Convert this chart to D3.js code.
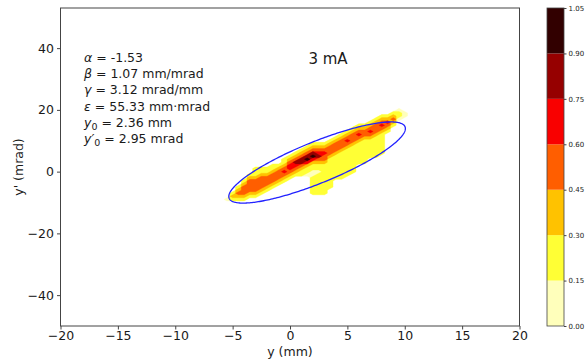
<!DOCTYPE html>
<html>
<head>
<meta charset="utf-8">
<script src="https://cdn.jsdelivr.net/npm/d3@7"></script>
<style>
  body { margin: 0; background: #fff; }
  text { font-family: "DejaVu Sans", sans-serif; fill: #1a1a1a; }
</style>
</head>
<body>
<svg id="chart" width="588" height="360"></svg>
<script>
// twiss parameters of the fitted ellipse
const twissNames  = ["alpha", "beta", "gamma", "emit", "y0", "yp0"];
const twissValues = [-1.53, 1.07, 3.12, 55.33, 2.36, 2.95];
const beamLabel = "3 mA";

// contour levels (normalised density)
const levels = [0, 0.15, 0.30, 0.45, 0.60, 0.75, 0.90, 1.05];

// density, one column per 0.5 mm,
// starting row (mrad, 1 mrad step) and level index per row going up
const colX     = [-5.5, -5, -4.5, -4, -3.5, -3, -2.5, -2, -1.5, -1, -0.5, 0, 0.5, 1, 1.5, 2,
                  2.5, 3, 3.5, 4, 4.5, 5, 5.5, 6, 6.5, 7, 7.5, 8, 8.5, 9, 9.5, 10];
const colStart = [-9, -9, -9, -9, -8, -8, -7, -6, -5, -4, -3, -2, -1, -1, -1, -7,
                  -7, -7, -5, -2, -2, -1, 0, 3, 3, 5, 5, 6, 13, 15, 17, 18];
const colLevels = [
  "1", "232", "23432", "2344432", "23444432", "2344443222", "234444322", "23444322",
  "23444322", "2344432", "23454322", "23455432", "23456432", "223466432", "1223576432",
  "22222211223576432", "22222221223465432", "22222222223445432", "2222222222344432",
  "22222222344432", "222222222344432", "222222222345432", "222222222344432",
  "2222222345432", "2222222234432", "222222345432", "2222222344432", "2222222345432",
  "234532", "23432", "1221", "11"
];

const xTicks = [-20, -15, -10, -5, 0, 5, 10, 15, 20];
const yTicks = [-40, -20, 0, 20, 40];

// hot_r sampled at the level mid points
const levelColors = ["#ffffbb", "#ffff35", "#ffc200", "#ff5e00", "#f90000", "#960000", "#320000"];

const svg = d3.select("#chart");
const plot = { left: 60.5, right: 519.5, top: 8, bottom: 326 };

const x = d3.scaleLinear().domain([-20, 20]).range([plot.left, plot.right]);
const y = d3.scaleLinear().domain([-50, 53]).range([plot.bottom, plot.top]);

// ---- density grid ----
const gx0 = -5.5, gdx = 0.5, gy0 = -10, gdy = 1;
const nx = colX.length, ny = 31;
const grid = new Array(nx * ny).fill(0);
colX.forEach((cx, i) => {
  const s = colLevels[i];
  for (let k = 0; k < s.length; k++) {
    const j = Math.round((colStart[i] + k - gy0) / gdy);
    if (j >= 0 && j < ny) grid[j * nx + i] = +s[k];
  }
});

const contours = d3.contours()
  .size([nx, ny])
  .smooth(false)
  .thresholds(d3.range(1, levels.length).map(d => d - 0.5))(grid);

const proj = d3.geoTransform({
  point(gx, gy) {
    this.stream.point(x(gx0 + (gx - 0.5) * gdx), y(gy0 + (gy - 0.5) * gdy));
  }
});
const path = d3.geoPath(proj);

svg.append("g")
  .selectAll("path")
  .data(contours)
  .join("path")
  .attr("d", path)
  .attr("fill", (d, i) => levelColors[i])
  .attr("stroke", (d, i) => levelColors[i])
  .attr("stroke-width", 0.3);

// ---- twiss ellipse ----
const [alpha, beta, gamma, emit, y0, yp0] = twissValues;
const ell = d3.range(0, 2 * Math.PI + 0.01, 0.02).map(t => [
  y0 + Math.sqrt(emit * beta) * Math.cos(t),
  yp0 + Math.sqrt(emit / beta) * (-alpha * Math.cos(t) - Math.sin(t))
]);
svg.append("path")
  .datum(ell)
  .attr("d", d3.line().x(d => x(d[0])).y(d => y(d[1])))
  .attr("fill", "none")
  .attr("stroke", "#2222ff")
  .attr("stroke-width", 1.3);

// ---- axes ----
const xAxis = svg.append("g")
  .attr("transform", `translate(0,${plot.bottom})`)
  .call(d3.axisBottom(x).tickValues(xTicks).tickSizeOuter(0).tickSize(3.5).tickPadding(2));
const yAxis = svg.append("g")
  .attr("transform", `translate(${plot.left},0)`)
  .call(d3.axisLeft(y).tickValues(yTicks).tickSizeOuter(0).tickSize(3.5).tickPadding(3));
[xAxis, yAxis].forEach(g => {
  g.select(".domain").remove();
  g.selectAll("line").attr("stroke", "#444");
  g.selectAll("text").style("font-size", "12.5px").attr("fill", "#1a1a1a");
});

svg.append("rect")
  .attr("x", plot.left).attr("y", plot.top)
  .attr("width", plot.right - plot.left).attr("height", plot.bottom - plot.top)
  .attr("fill", "none").attr("stroke", "#444").attr("stroke-width", 1);

svg.append("text")
  .attr("x", (plot.left + plot.right) / 2).attr("y", 356)
  .attr("text-anchor", "middle").style("font-size", "12.5px")
  .text("y (mm)");
svg.append("text")
  .attr("transform", `translate(23,${(plot.top + plot.bottom) / 2}) rotate(-90)`)
  .attr("text-anchor", "middle").style("font-size", "12.5px")
  .text("y' (mrad)");

// ---- annotation ----
const ann = svg.append("g").style("font-size", "12.5px");
const lines = [
  [["α", true, false], [" = " + twissValues[0].toFixed(2), false, false]],
  [["β", true, false], [" = " + twissValues[1].toFixed(2) + " mm/mrad", false, false]],
  [["γ", true, false], [" = " + twissValues[2].toFixed(2) + " mrad/mm", false, false]],
  [["ε", true, false], [" = " + twissValues[3].toFixed(2) + " mm·mrad", false, false]],
  [["y", true, false], ["0", false, true], [" = " + twissValues[4].toFixed(2) + " mm", false, false]],
  [["y′", true, false], ["0", false, true], [" = " + twissValues[5].toFixed(2) + " mrad", false, false]]
];
lines.forEach((parts, i) => {
  const t = ann.append("text").attr("x", 84).attr("y", 62 + i * 16.2);
  parts.forEach(([s, it, sub]) => {
    const ts = t.append("tspan").text(s);
    if (it) ts.style("font-style", "italic");
    if (sub) ts.attr("dy", 3).style("font-size", "9.5px");
    else if (i >= 4 && s.startsWith(" ")) ts.attr("dy", -3);
  });
});

svg.append("text")
  .attr("x", 328).attr("y", 64)
  .attr("text-anchor", "middle").style("font-size", "15px")
  .text(beamLabel);

// ---- colorbar ----
const cb = { left: 547, width: 17 };
const cy = d3.scaleLinear().domain([levels[0], levels[levels.length - 1]]).range([plot.bottom, plot.top]);
svg.append("g")
  .selectAll("rect")
  .data(d3.pairs(levels))
  .join("rect")
  .attr("x", cb.left)
  .attr("y", d => cy(d[1]))
  .attr("width", cb.width)
  .attr("height", d => cy(d[0]) - cy(d[1]))
  .attr("fill", (d, i) => levelColors[i]);
svg.append("rect")
  .attr("x", cb.left).attr("y", plot.top)
  .attr("width", cb.width).attr("height", plot.bottom - plot.top)
  .attr("fill", "none").attr("stroke", "#444").attr("stroke-width", 0.8);
const cbAxis = svg.append("g")
  .attr("transform", `translate(${cb.left + cb.width},0)`)
  .call(d3.axisRight(cy).tickValues(levels).tickFormat(d3.format(".2f")).tickSize(2.5).tickPadding(2));
cbAxis.select(".domain").remove();
cbAxis.selectAll("line").attr("stroke", "#444");
cbAxis.selectAll("text").style("font-size", "7px").attr("fill", "#1a1a1a");
</script>
</body>
</html>
